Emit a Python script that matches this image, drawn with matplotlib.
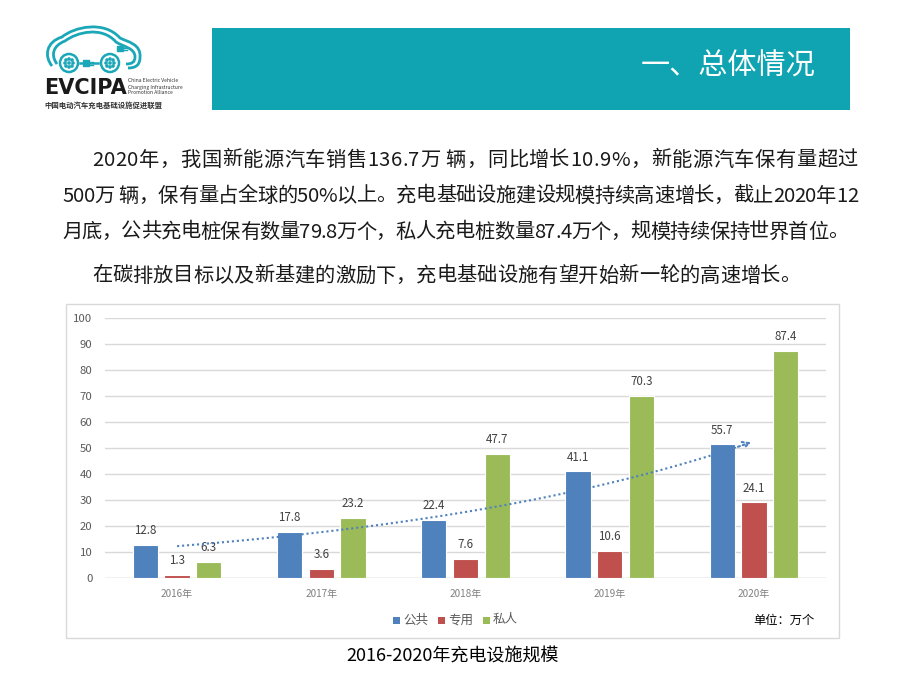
import numpy as np
import matplotlib.pyplot as plt
from matplotlib.patches import Rectangle, Circle, PathPatch
from matplotlib.path import Path

plt.rcParams['font.family'] = ['Noto Sans CJK SC', 'DejaVu Sans']

# Data (单位：万个)
years = ["2016年", "2017年", "2018年", "2019年", "2020年"]
series_names = ["公共", "专用", "私人"]
public = [12.8, 17.8, 22.4, 41.1, 51.5]
dedicated = [1.3, 3.6, 7.6, 10.6, 29.2]
private = [6.3, 23.2, 47.7, 70.3, 87.4]
# labels printed on the bars (the 2020 public / dedicated labels differ from bar heights)
public_labels = ["12.8", "17.8", "22.4", "41.1", "55.7"]
dedicated_labels = ["1.3", "3.6", "7.6", "10.6", "24.1"]
private_labels = ["6.3", "23.2", "47.7", "70.3", "87.4"]

colors = ["#4F81BD", "#C0504D", "#9BBB59"]
teal = "#10A3B1"

paragraph = [
    "2020年，我国新能源汽车销售136.7万 辆，同比增长10.9%，新能源汽车保有量超过",
    "500万 辆，保有量占全球的50%以上。充电基础设施建设规模持续高速增长，截止2020年12",
    "月底，公共充电桩保有数量79.8万个，私人充电桩数量87.4万个，规模持续保持世界首位。",
    "在碳排放目标以及新基建的激励下，充电基础设施有望开始新一轮的高速增长。",
]

W, H = 907, 678
fig = plt.figure(figsize=(W / 100, H / 100), dpi=100)
renderer = fig.canvas.get_renderer()

# full-figure overlay in pixel coordinates for slide decoration
bg = fig.add_axes([0, 0, 1, 1], zorder=0)
bg.set_xlim(0, W)
bg.set_ylim(H, 0)
bg.axis("off")

# header bar
bg.add_patch(Rectangle((212, 28), 638, 82, facecolor=teal, edgecolor="none"))
bg.text(815, 67, "一、总体情况", color="white", fontsize=21, ha="right", va="center")

# logo: car outline
def curve(pts):
    codes = [Path.MOVETO] + [Path.CURVE4] * (len(pts) - 1)
    return Path(pts, codes)

outer = [(52, 66), (44, 56), (46, 42), (62, 37),
         (74, 27), (104, 20), (120, 38),
         (128, 42), (141, 44), (140, 57),
         (140, 64), (137, 68), (128, 68)]
inner = [(57, 64), (51, 56), (52, 46), (65, 41),
         (77, 32), (102, 26), (116, 42),
         (124, 47), (135, 48), (135, 57),
         (135, 62), (132, 64), (126, 64)]
for pts in (outer, inner):
    bg.add_patch(PathPatch(curve(pts), facecolor="none", edgecolor="#1AA7B8", lw=2))
for cx in (69, 110):
    bg.add_patch(Circle((cx, 63), 9, facecolor="white", edgecolor="#1AA7B8", lw=1.8))
    for dx, dy in [(-3, -3), (0, -4), (3, -3), (-4, 0), (0, 0), (4, 0), (-3, 3), (0, 4), (3, 3)]:
        bg.add_patch(Circle((cx + dx, 63 + dy), 1.1, color="#1AA7B8"))
bg.plot([80, 98], [63, 63], color="#1AA7B8", lw=1.8)
bg.add_patch(Rectangle((83, 60), 6, 6, color="#1AA7B8"))
bg.plot([89, 93], [61.5, 61.5], color="#1AA7B8", lw=1)
bg.plot([89, 93], [64.5, 64.5], color="#1AA7B8", lw=1)
bg.add_patch(Rectangle((117, 46), 6, 5, color="#1AA7B8"))
bg.plot([123, 127], [47.5, 47.5], color="#1AA7B8", lw=1)
bg.plot([123, 127], [49.5, 49.5], color="#1AA7B8", lw=1)

bg.text(44, 88, "EVCIPA", fontsize=15, fontweight="bold", color="#1a1a1a",
        ha="left", va="center", family="DejaVu Sans")
for i, s in enumerate(["China Electric Vehicle", "Charging Infrastructure", "Promotion Alliance"]):
    bg.text(128, 81 + i * 6, s, fontsize=3.6, color="#333333", ha="left", va="center")
bg.text(44, 105, "中国电动汽车充电基础设施促进联盟", fontsize=5.3, fontweight="bold",
        color="#333333", ha="left", va="center")

# paragraph text (first three lines justified like the slide)
def text_line(s, x0, y, x1=None, size=14.6):
    parts = [bg.text(0, y, ch, fontsize=size, color="#1a1a1a", ha="left", va="center") for ch in s]
    widths = [p.get_window_extent(renderer).width for p in parts]
    gap = 0 if x1 is None else (x1 - x0 - sum(widths)) / (len(s) - 1)
    xpos = x0
    for p, w in zip(parts, widths):
        p.set_x(xpos)
        xpos += w + gap

line_y = [160, 196, 232, 276]
text_line(paragraph[0], 92, line_y[0], 858)
text_line(paragraph[1], 62, line_y[1], 858)
text_line(paragraph[2], 62, line_y[2], 848)
text_line(paragraph[3], 92, line_y[3])

# chart frame
bg.add_patch(Rectangle((66, 304), 773, 334, facecolor="white", edgecolor="#D9D9D9", lw=1))

# legend and unit
lx = [396, 441, 486]
for x, c, name in zip(lx, colors, series_names):
    bg.add_patch(Rectangle((x - 3.5, 616.5), 7, 7, facecolor=c, edgecolor="none"))
    bg.text(x + 7, 620, name, fontsize=9, color="#595959", ha="left", va="center")
bg.text(753, 620, "单位：万个", fontsize=8.8, color="black", ha="left", va="center")

# caption
bg.text(453, 657, "2016-2020年充电设施规模", fontsize=13, color="black", ha="center", va="center")

# chart axes
ax = fig.add_axes([105 / W, (H - 578.3) / H, (826 - 105) / W, 260 / H], zorder=1)
ax.set_facecolor("none")
x = np.arange(len(years))
offsets = [-0.22, 0, 0.22]
width = 0.175
for vals, labels, off, c in zip([public, dedicated, private],
                                [public_labels, dedicated_labels, private_labels],
                                offsets, colors):
    bars = ax.bar(x + off, vals, width, color=c, edgecolor="white", linewidth=0.8, zorder=3)
    for b, lab in zip(bars, labels):
        ax.text(b.get_x() + b.get_width() / 2, b.get_height() + 3, lab,
                ha="center", va="bottom", fontsize=8.3, color="#404040")

# exponential trend line of the public series
k, b0 = np.polyfit(x, np.log(public), 1)
xt = np.linspace(0, 4, 100)
yt = np.exp(b0 + k * xt)
ax.plot(xt[:-4], yt[:-4], color="#4F81BD", lw=1.5, ls=(0, (1, 1.4)), zorder=4)
ax.annotate("", xy=(xt[-1], yt[-1]), xytext=(xt[-5], yt[-5]),
            arrowprops=dict(arrowstyle="->", color="#4F81BD", lw=1.5,
                            linestyle=(0, (1, 1.4)), mutation_scale=12), zorder=4)

ax.set_xlim(-0.5, 4.5)
ax.set_ylim(0, 100)
ax.set_yticks(np.arange(0, 101, 10))
ax.set_xticks(x)
ax.set_xticklabels(years)
ax.grid(axis="y", color="#D9D9D9", lw=1, zorder=0)
for s in ax.spines.values():
    s.set_visible(False)
ax.axhline(0, color="#D9D9D9", lw=1, zorder=2)
ax.tick_params(axis="y", length=0, pad=9, labelsize=8.2, labelcolor="#595959")
ax.tick_params(axis="x", length=0, pad=8, labelsize=7.2, labelcolor="#808080")

fig.savefig("out.png", dpi=100)
